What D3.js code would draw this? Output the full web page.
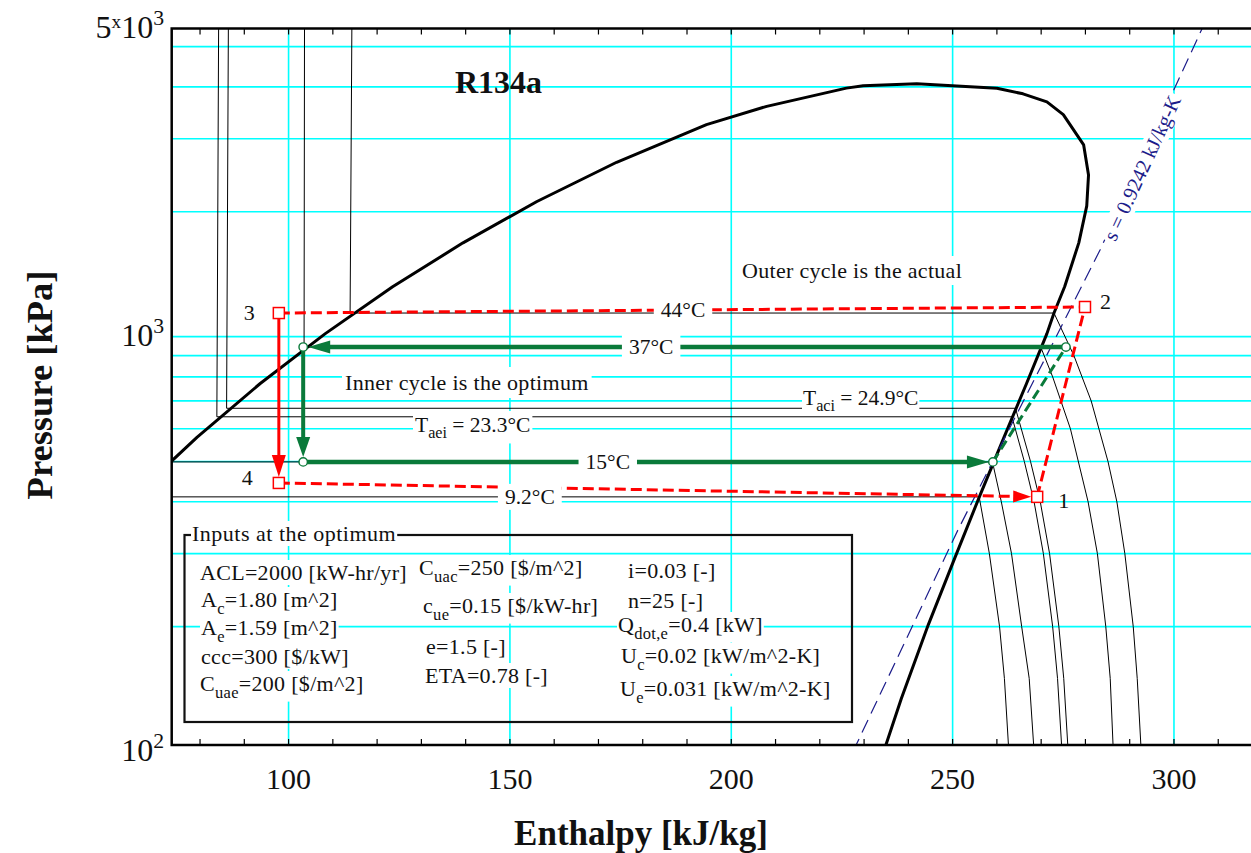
<!DOCTYPE html>
<html><head><meta charset="utf-8">
<script src="https://cdn.jsdelivr.net/npm/d3@7"></script>
<style>
body{margin:0;background:#fff;}
svg{display:block;font-family:"Liberation Serif","Times New Roman",serif;}
</style></head><body>
<svg id="c" width="1251" height="853"></svg>
<script>
// ---------------- DATA ----------------
const xDomain = [73.6, 317.4];          // enthalpy kJ/kg
const yDomain = [103.7, 5530];          // pressure kPa (log)
const xGridValues = [100, 150, 200, 250, 300];
const xTickLabels = ["100", "150", "200", "250", "300"];
const xMinorTicks = [80, 90, 100, 110, 120, 130, 140, 150, 160, 170, 180, 190, 200, 210, 220, 230, 240, 250, 260, 270, 280, 290, 300, 310];
const yGridValues = [200, 300, 400, 500, 600, 700, 800, 900, 1000, 2000, 3000, 4000, 5000];
const yTickLabels = [
  {pos: "min", parts: ["10", {t: "2", k: "sup"}]},
  {pos: 1000, parts: ["10", {t: "3", k: "sup"}]},
  {pos: "max", parts: ["5", {t: "x", k: "smallsup"}, "10", {t: "3", k: "sup"}]}
];

// saturation dome (h, P)
const satLiquid = [[65.4,415],[79.3,572],[93.6,771],[108.3,1017],[123.5,1319],[139.4,1683],[156.1,2117],[174.1,2632],[194.4,3244],[208.0,3590],[226.0,3972],[229.8,4026],[241.9,4069]];
const satVapor = [[241.9,4069],[260.0,3968],[265.9,3848],[271.3,3680],[275.0,3430],[279.6,2898],[280.7,2454],[280.3,2066],[278.5,1683],[275.3,1319],[272.9,1140],[271.3,1017],[266.7,771],[261.6,572],[256.2,415],[250.5,293],[244.5,202],[238.4,134],[234.7,102]];

// isotherms (h, P)
const iso44  = [[114.3,5600],[113.9,1140],[272.9,1140],[277.4,900],[281.3,700],[285.1,500],[287.1,400],[288.9,300],[290.8,200],[291.7,150],[292.6,100]];
const iso37  = [[103.6,5600],[103.5,944],[269.9,944],[272.6,800],[276.6,600],[280.6,400],[282.7,300],[284.6,200],[285.6,150],[286.3,100]];
const iso249 = [[86.4,5600],[86.0,672],[264.2,672],[267.6,500],[269.8,400],[271.9,300],[274.0,200],[275.1,150],[276.1,100]];
const iso233 = [[84.2,5600],[83.8,641],[263.4,641],[266.2,500],[268.4,400],[270.5,300],[272.6,200],[273.7,150],[274.7,100]];
const iso15  = [[72.2,5600],[72.2,499],[259.0,499],[261.0,400],[263.3,300],[265.6,200],[267.3,150],[268.4,100]];
const iso92  = [[64.3,5600],[64.3,411],[256.0,411],[258.3,300],[260.6,200],[261.7,150],[262.7,100]];
const isotherms = [iso44, iso37, iso249, iso233, iso15, iso92];

// isentrope s = 0.9242 kJ/kg-K
const isentrope = [[227.5,100],[251.2,342],[259.0,499],[272.2,944],[283.3,1618],[306.6,5600]];

// cycles: states 1,2,3,4
const actualH = [269.1, 279.9, 97.8, 97.8];
const actualP = [411, 1179, 1140, 444];
const actualLabels = ["1", "2", "3", "4"];
const optimumH = [259.1, 275.6, 103.3, 103.3];
const optimumP = [499, 944, 944, 499];

const tempLabels = ["44°C", "37°C", "15°C", "9.2°C"];
const tempLabelAt = [[189.1, 1162], [181.9, 944], [172.1, 499], [154.5, 411]];

const inputCol1 = [["ACL","","=2000 [kW-hr/yr]"],["A","c","=1.80 [m^2]"],["A","e","=1.59 [m^2]"],["ccc","","=300 [$/kW]"],["C","uae","=200 [$/m^2]"]];
const inputCol2 = [["C","uac","=250 [$/m^2]"],["c","ue","=0.15 [$/kW-hr]"],["e","","=1.5 [-]"],["ETA","","=0.78 [-]"]];
const inputCol3 = [["i","","=0.03 [-]"],["n","","=25 [-]"],["Q","dot,e","=0.4 [kW]"],["U","c","=0.02 [kW/m^2-K]"],["U","e","=0.031 [kW/m^2-K]"]];

// ---------------- LAYOUT ----------------
const W = 1251, H = 853;
const L = 171.7, R = 1251, T = 28.5, B = 745;
const svg = d3.select("#c");
const x = d3.scaleLinear().domain(xDomain).range([L, R]);
const y = d3.scaleLog().domain(yDomain).range([B, T]);
const RED = "#ff0000", GREEN = "#0a7a3a", NAVY = "#1c1c8a", CYAN = "#00ffff", INK = "#111";

svg.append("rect").attr("width", W).attr("height", H).attr("fill", "#fff");
svg.append("defs").append("clipPath").attr("id", "plot")
  .append("rect").attr("x", L).attr("y", T).attr("width", R - L).attr("height", B - T);

function richText(g, xp, yp, parts, size, anchor, fill, weight, spacing) {
  const t = g.append("text").attr("x", xp).attr("y", yp).attr("font-size", size)
    .attr("text-anchor", anchor || "start").attr("fill", fill || INK);
  if (weight) t.attr("font-weight", weight);
  if (spacing) t.attr("letter-spacing", spacing);
  let cur = 0;
  parts.forEach(p => {
    const s = typeof p === "string" ? {t: p, k: ""} : p;
    const off = s.k === "sub" ? size * 0.3 : s.k === "sup" ? -size * 0.42 : s.k === "smallsup" ? -size * 0.3 : 0;
    const ts = t.append("tspan").text(s.t).attr("dy", off - cur);
    if (s.k === "sub") ts.attr("font-size", size * 0.75);
    if (s.k === "sup") ts.attr("font-size", size * 0.68);
    if (s.k === "smallsup") ts.attr("font-size", size * 0.6);
    cur = off;
  });
  return t;
}
function addBg(t, px, py) {
  const bb = t.node().getBBox();
  d3.select(t.node().parentNode).insert("rect", () => t.node())
    .attr("x", bb.x - px).attr("y", bb.y - py).attr("width", bb.width + 2 * px).attr("height", bb.height + 2 * py)
    .attr("fill", "#fff");
}

// grid
const grid = svg.append("g").attr("stroke", CYAN).attr("stroke-width", 1.6);
grid.selectAll("line.gv").data(xGridValues).join("line").attr("class", "gv")
  .attr("x1", d => x(d)).attr("x2", d => x(d)).attr("y1", T).attr("y2", B);
grid.selectAll("line.gh").data(yGridValues).join("line").attr("class", "gh")
  .attr("x1", L).attr("x2", R).attr("y1", d => y(d)).attr("y2", d => y(d));

const plot = svg.append("g").attr("clip-path", "url(#plot)");
const line = d3.line().x(d => x(d[0])).y(d => y(d[1]));

// isotherms
plot.append("g").selectAll("path").data(isotherms).join("path")
  .attr("d", line).attr("fill", "none").attr("stroke", "#000").attr("stroke-width", 1);
// dome
plot.append("path").attr("d", line(satLiquid.concat(satVapor.slice(1))))
  .attr("fill", "none").attr("stroke", "#000").attr("stroke-width", 3).attr("stroke-linejoin", "round");
// isentrope
plot.append("path").attr("d", line(isentrope)).attr("fill", "none").attr("stroke", NAVY)
  .attr("stroke-width", 1.2).attr("stroke-dasharray", "14,7");

// arrows
function seg(g, a, b, color, w, dash, head) {
  let ex = b[0], ey = b[1];
  const dx = b[0] - a[0], dy = b[1] - a[1], n = Math.hypot(dx, dy), ux = dx / n, uy = dy / n;
  if (head) {
    const tx = b[0] - ux * head.gap, ty = b[1] - uy * head.gap;
    ex = tx - ux * head.len * 0.8; ey = ty - uy * head.len * 0.8;
    const bx = tx - ux * head.len, by = ty - uy * head.len;
    g.append("path").attr("d", `M${tx},${ty}L${bx - uy * head.wid / 2},${by + ux * head.wid / 2}L${bx + uy * head.wid / 2},${by - ux * head.wid / 2}Z`)
      .attr("fill", color);
  }
  const l = g.insert("line", ":first-child").attr("x1", a[0]).attr("y1", a[1]).attr("x2", ex).attr("y2", ey)
    .attr("stroke", color).attr("stroke-width", w);
  if (dash) l.attr("stroke-dasharray", dash);
}
const cyc = svg.append("g");
const A = actualH.map((h, i) => [x(h), y(actualP[i])]);
const O = optimumH.map((h, i) => [x(h), y(optimumP[i])]);
const gOpt = cyc.append("g");
seg(gOpt, O[1], O[2], GREEN, 4.5, null, {len: 22, wid: 13, gap: 5});
seg(gOpt, O[2], O[3], GREEN, 4, null, {len: 20, wid: 14, gap: 5});
seg(gOpt, O[3], O[0], GREEN, 4.5, null, {len: 22, wid: 13, gap: 4});
seg(gOpt, O[0], O[1], GREEN, 3, "10,5", null);
const gAct = cyc.append("g");
seg(gAct, A[2], A[1], RED, 3, "11,5", null);
seg(gAct, A[0], A[1], RED, 3, "11,5", null);
seg(gAct, A[3], A[0], RED, 3, "11,5", {len: 18, wid: 12, gap: 6});
seg(gAct, A[2], A[3], RED, 3, null, {len: 22, wid: 14, gap: 6});

// markers
cyc.append("g").selectAll("circle").data(O).join("circle")
  .attr("cx", d => d[0]).attr("cy", d => d[1]).attr("r", 4.2)
  .attr("fill", "#fff").attr("stroke", GREEN).attr("stroke-width", 1.4);
cyc.append("g").selectAll("rect").data(A).join("rect")
  .attr("x", d => d[0] - 5.5).attr("y", d => d[1] - 5.5).attr("width", 11).attr("height", 11)
  .attr("fill", "#fff").attr("stroke", RED).attr("stroke-width", 1.5);

// labels
const lab = svg.append("g");
const ptOff = [[21, 11], [15, 2], [-35, 7], [-37, 2]];
actualLabels.forEach((s, i) => richText(lab, A[i][0] + ptOff[i][0], A[i][1] + ptOff[i][1], [s], 22, "start"));

tempLabels.forEach((s, i) => {
  const t = richText(lab, x(tempLabelAt[i][0]), y(tempLabelAt[i][1]) + 7, [s], 21.5, "middle");
  addBg(t, 7, 1);
});
addBg(richText(lab, 742, 278, ["Outer cycle is the actual"], 22, "start", INK, null, 0.3), 3, 2);
addBg(richText(lab, 345, 390, ["Inner cycle is the optimum"], 22, "start", INK, null, 0.3), 3, 3);
addBg(richText(lab, 803, 405, ["T", {t: "aci", k: "sub"}, " = 24.9°C"], 21.5, "start"), 1, 0);
addBg(richText(lab, 415, 432, ["T", {t: "aei", k: "sub"}, " = 23.3°C"], 21.5, "start"), 2, 2);
richText(lab, 455, 93, ["R134a"], 32, "start", INK, "bold");

// isentrope label
{
  const p0 = [x(283.3), y(1618)], p1 = [x(306.6), y(5600)];
  const ang = Math.atan2(p1[1] - p0[1], p1[0] - p0[0]) * 180 / Math.PI;
  const g = lab.append("g").attr("transform", `translate(${x(292.8)},${y(2550)}) rotate(${ang})`);
  const t = richText(g, 0, 7, ["s = 0.9242 kJ/kg-K"], 20.5, "middle", NAVY);
  addBg(t, 2, 0);
}

// inputs box
const box = svg.append("g");
box.append("rect").attr("x", 184.5).attr("y", 535).attr("width", 667.5).attr("height", 187)
  .attr("fill", "none").attr("stroke", "#111").attr("stroke-width", 2.2);
addBg(richText(box, 192, 541, ["Inputs at the optimum"], 22, "start", INK, null, 0.5), 1, 0);
const col1X = [200, 201, 201, 201, 200], col1Y = [580, 607, 635, 664, 691];
const col2X = [419, 423, 426, 425], col2Y = [575, 613, 654, 683];
const col3X = [628, 628, 618, 621, 620], col3Y = [578, 608, 632, 663, 696];
function inputs(col, xs, ys) {
  col.forEach((r, i) => {
    const parts = [r[0]];
    if (r[1]) parts.push({t: r[1], k: "sub"});
    parts.push(r[2]);
    addBg(richText(box, xs[i], ys[i], parts, 22, "start", INK, null, 0.3), 1, 0);
  });
}
inputs(inputCol1, col1X, col1Y);
inputs(inputCol2, col2X, col2Y);
inputs(inputCol3, col3X, col3Y);

// axes frame & ticks
const ax = svg.append("g").attr("stroke", "#000");
ax.selectAll("line.tb").data(xMinorTicks).join("line").attr("class", "tb")
  .attr("x1", d => x(d)).attr("x2", d => x(d)).attr("y1", B).attr("y2", B - 6).attr("stroke-width", 1.2);
ax.selectAll("line.tt").data(xMinorTicks).join("line").attr("class", "tt")
  .attr("x1", d => x(d)).attr("x2", d => x(d)).attr("y1", T).attr("y2", T + 6).attr("stroke-width", 1.2);
ax.append("path").attr("d", `M${R + 2},${T}H${L}V${B}H${R + 2}`).attr("fill", "none").attr("stroke-width", 2.5);

const tl = svg.append("g");
xGridValues.forEach((v, i) => richText(tl, x(v), 789, [xTickLabels[i]], 30, "middle"));
yTickLabels.forEach(d => {
  const v = d.pos === "min" ? 100 : d.pos === "max" ? yDomain[1] : d.pos;
  richText(tl, 164, y(v) + 9.5, d.parts, 32, "end");
});
richText(tl, 641, 845, ["Enthalpy [kJ/kg]"], 35, "middle", INK, "bold");
const yl = tl.append("g").attr("transform", "translate(52,385) rotate(-90)");
richText(yl, 0, 0, ["Pressure [kPa]"], 36.5, "middle", INK, "bold");
</script>
</body></html>
